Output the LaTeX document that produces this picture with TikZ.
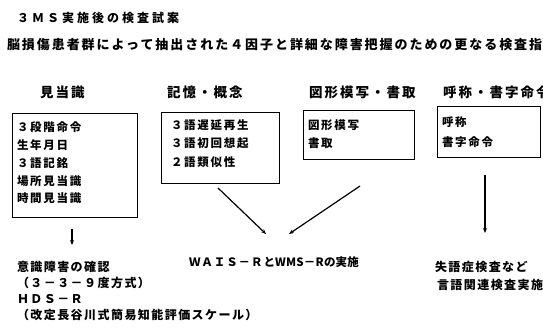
\documentclass[tikz,border=0pt]{standalone}
\usepackage{fontspec}
\newfontfamily\jpTitle[LetterSpace=25]{Noto Sans CJK JP}
\newfontfamily\jpSub[LetterSpace=15]{Noto Sans CJK JP}
\newfontfamily\jpHead[LetterSpace=15]{Noto Sans CJK JP}
\newfontfamily\jpBox[LetterSpace=15]{Noto Sans CJK JP}
\newfontfamily\jpLow[LetterSpace=12]{Noto Sans CJK JP}
\newfontfamily\jpMid[LetterSpace=8]{Noto Sans CJK JP}
\newfontfamily\jpTight[LetterSpace=2]{Noto Sans CJK JP}
\usetikzlibrary{arrows.meta}
\begin{document}
\begin{tikzpicture}[x=1pt,y=-1pt,
  base/.style={anchor=west,inner sep=0pt,outer sep=0pt},
  titletxt/.style={base,font=\jpTitle\bfseries\fontsize{12}{14}\selectfont},
  subtxt/.style={base,font=\jpSub\bfseries\fontsize{13}{15}\selectfont},
  headtxt/.style={base,font=\jpHead\bfseries\fontsize{13.5}{15}\selectfont},
  boxtxt/.style={base,font=\jpBox\bfseries\fontsize{11.5}{13}\selectfont},
  lowtxt/.style={base,font=\jpLow\bfseries\fontsize{12}{14}\selectfont},
  midtxt/.style={base,font=\jpMid\bfseries\fontsize{11.5}{14}\selectfont},
  box/.style={draw,line width=1.2pt,rectangle,anchor=north west,inner sep=0pt},
  arr/.style={line width=1.2pt,-{Stealth[length=5pt,width=4pt]}}
]
\useasboundingbox (0,0) rectangle (543,333);
\clip (0,0) rectangle (543,333);

% title lines
\node[titletxt] (title) at (17,18) {３ＭＳ実施後の検査試案};
\node[subtxt] (sub) at (7,45) {脳損傷患者群によって抽出された４因子と詳細な障害把握のための更なる検査指針};

% headers
\node[headtxt] (h1) at (40,92) {見当識};
\node[headtxt] (h2) at (167,92) {記憶・概念};
\node[headtxt] (h3) at (309,92) {図形模写・書取};
\node[headtxt] (h4) at (443,92) {呼称・書字命令};

% boxes
\node[box,minimum width=125pt,minimum height=104pt] (b1) at (12,113) {};
\node[box,minimum width=118pt,minimum height=71pt] (b2) at (161,112) {};
\node[box,minimum width=111pt,minimum height=49pt] (b3) at (303,110) {};
\node[box,minimum width=103pt,minimum height=51pt] (b4) at (437,106) {};

% box texts
\node[boxtxt] (b1a) at (17,127) {３段階命令};
\node[boxtxt] (b1b) at (17,145) {生年月日};
\node[boxtxt] (b1c) at (17,163) {３語記銘};
\node[boxtxt] (b1d) at (17,181) {場所見当識};
\node[boxtxt] (b1e) at (17,198) {時間見当識};

\node[boxtxt] (b2a) at (171,125) {３語遅延再生};
\node[boxtxt] (b2b) at (171,143) {３語初回想起};
\node[boxtxt] (b2c) at (171,162) {２語類似性};

\node[boxtxt] (b3a) at (308,125) {図形模写};
\node[boxtxt] (b3b) at (308,143) {書取};

\node[boxtxt] (b4a) at (442,122) {呼称};
\node[boxtxt] (b4b) at (442,142) {書字命令};

% lower texts
\node[lowtxt] (l1) at (17,267) {意識障害の確認};
\node[lowtxt] (l2) at (17,283) {（３－３－９度方式）};
\node[lowtxt] (l3) at (17,299) {ＨＤＳ－Ｒ};
\node[lowtxt] (l4) at (17,315) {（改定長谷川式簡易知能評価スケール）};

\node[midtxt] (mid) at (189,262) {ＷＡＩＳ－Ｒと{\jpTight\bfseries WMS－Rの実施}};

\node[lowtxt] (r1) at (435,267) {失語症検査など};
\node[lowtxt] (r2) at (437,285) {言語関連検査実施};

% connector end points
\coordinate (a1s) at (72,229);
\coordinate (a1e) at (72,245);
\coordinate (a2s) at (218,188);
\coordinate (a2e) at (266,234);
\coordinate (a3s) at (360,186);
\coordinate (a3e) at (289,234);
\coordinate (a4s) at (485,175);
\coordinate (a4e) at (485,233);

\draw[arr] (a1s) -- (a1e);
\draw[arr] (a2s) -- (a2e);
\draw[arr] (a3s) -- (a3e);
\draw[arr] (a4s) -- (a4e);
\end{tikzpicture}
\end{document}
